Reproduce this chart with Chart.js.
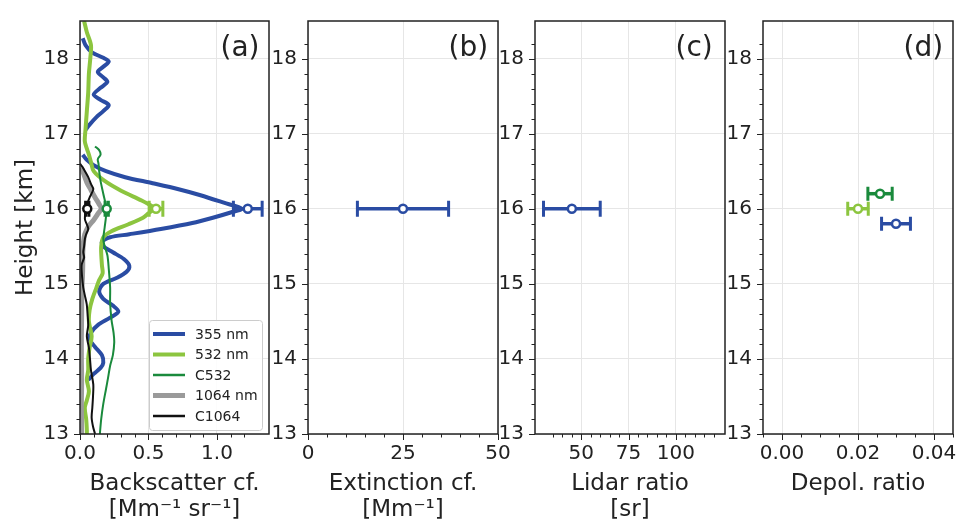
<!DOCTYPE html>
<html>
<head>
<meta charset="utf-8">
<title>Lidar profiles</title>
<script src="https://cdn.jsdelivr.net/npm/chart.js@4.4.1/dist/chart.umd.min.js"></script>
<style>
  html, body { margin:0; padding:0; background:#fff; }
  body { width:957px; height:523px; position:relative; overflow:hidden; }
  canvas { position:absolute; top:0; }
</style>
</head>
<body>
<canvas id="panelA"></canvas>
<canvas id="panelB"></canvas>
<canvas id="panelC"></canvas>
<canvas id="panelD"></canvas>
<script>
// ---- data (heights in km) ----
const h355 = [18.27,18.18,18.08,18.01,17.96,17.89,17.82,17.75,17.69,17.61,17.52,17.45,17.38,17.30,17.22,17.12,17.05,
  16.90,
  16.72,16.65,16.58,16.50,16.42,16.34,16.26,16.18,16.08,16.00,15.95,15.88,15.81,15.73,15.66,15.62,15.56,15.50,15.42,
  15.33,15.24,15.16,15.08,15.00,14.90,14.80,14.71,14.63,14.55,14.45,14.35,14.26,14.16,14.05,13.95,13.88,13.80,13.72];
const bsc355 = [0.02,0.04,0.09,0.17,0.21,0.17,0.13,0.17,0.20,0.15,0.10,0.15,0.21,0.17,0.12,0.07,0.04,
  null,
  0.02,0.05,0.10,0.19,0.33,0.53,0.72,0.88,1.05,1.18,1.10,0.97,0.82,0.59,0.36,0.22,0.16,0.17,0.24,
  0.32,0.36,0.34,0.27,0.17,0.14,0.17,0.24,0.28,0.22,0.13,0.08,0.07,0.11,0.16,0.17,0.15,0.10,0.06];

const h532 = [18.50,18.35,18.18,18.00,17.80,17.55,17.30,17.05,16.90,16.80,16.72,16.62,16.50,16.37,16.24,16.11,16.04,16.00,
  15.94,15.88,15.79,15.70,15.62,15.50,15.40,15.25,15.14,15.05,14.95,14.80,14.65,14.50,14.30,14.15,14.00,13.85,13.72,
  13.57,13.45,13.35,13.20,13.05,13.00];
const bsc532 = [0.03,0.05,0.08,0.075,0.065,0.06,0.05,0.04,0.035,0.05,0.065,0.08,0.10,0.18,0.30,0.45,0.52,0.54,
  0.50,0.46,0.35,0.23,0.17,0.155,0.155,0.16,0.165,0.14,0.12,0.09,0.07,0.065,0.085,0.07,0.06,0.06,0.05,
  0.065,0.05,0.035,0.045,0.05,0.05];

const hC532 = [16.83,16.78,16.72,16.66,16.60,16.50,16.37,16.20,16.03,15.90,15.75,15.60,15.50,15.38,15.20,14.95,14.75,
  14.52,14.35,14.22,14.05,13.91,13.75,13.60,13.40,13.20,13.00];
const bscC532 = [0.11,0.14,0.15,0.13,0.135,0.14,0.15,0.17,0.19,0.19,0.18,0.17,0.18,0.20,0.21,0.22,0.22,
  0.23,0.245,0.25,0.24,0.22,0.205,0.19,0.17,0.155,0.145];

const h1064 = [16.55,16.45,16.35,16.25,16.15,16.06,16.00,15.93,15.85,15.76,15.66,15.55,15.40,15.25,15.10,14.90,
  14.60,14.30,14.00,13.70,13.40,13.00];
const bsc1064 = [0.01,0.03,0.05,0.08,0.11,0.14,0.155,0.13,0.10,0.06,0.035,0.025,0.02,0.02,0.018,0.013,
  0.012,0.01,0.01,0.012,0.01,0.012];

const hC1064 = [16.60,16.55,16.50,16.42,16.33,16.26,16.16,16.08,16.03,15.95,15.86,15.79,15.73,15.66,15.60,15.50,
  15.42,15.35,15.25,15.10,14.95,14.85,14.73,14.60,14.45,14.30,14.15,14.00,13.85,13.66,13.50,13.35,13.22,13.10,13.00];
const bscC1064 = [0.00,0.02,0.036,0.06,0.08,0.097,0.073,0.055,0.05,0.04,0.036,0.05,0.06,0.045,0.036,0.03,
  0.024,0.03,0.012,0.015,0.024,0.035,0.049,0.055,0.06,0.05,0.065,0.073,0.08,0.097,0.095,0.09,0.085,0.095,0.11];

// layer mean values at 16 km
const meanBsc = [1.225, 0.555, 0.195, 0.053];
const meanBscErr = [0.105, 0.05, 0.012, 0.012];
const meanBscH = [16, 16, 16, 16];

const extinction = [25], extinctionErr = [12], extinctionH = [16];
const lidarRatio = [45], lidarRatioErr = [15], lidarRatioH = [16];

const depol = [0.020, 0.0258, 0.030];
const depolErr = [0.0027, 0.0032, 0.0038];
const depolH = [16.0, 16.2, 15.8];

const BLUE = '#2a4ca3', LGREEN = '#8cc53f', DGREEN = '#1a8a3c', GREY = '#9a9a9a', BLACK = '#111111';

Chart.defaults.font.family = 'DejaVu Sans';
Chart.defaults.color = '#222';

// which tick: 2 = major, 1 = minor, 0 = none
function kind(v, major, minor) {
  const near = (a, s) => Math.abs(a / s - Math.round(a / s)) < 1e-6;
  if (near(v, major)) return 2;
  if (near(v, minor)) return 1;
  return 0;
}

function fmt(v, digits) {
  if (Math.abs(v) < 1e-9) v = 0;
  return v.toFixed(digits);
}

function pts(hs, vs) {
  return hs.map((h, i) => ({x: vs[i], y: h}));
}

// frame, tick marks, error bars, panel letter, legend
const panelPlugin = {
  id: 'panel',
  beforeDatasetDraw(chart, args) {
    const ds = chart.data.datasets[args.index];
    if (!ds.errors) return;
    const ctx = chart.ctx, xs = chart.scales.x, ys = chart.scales.y;
    ctx.save();
    ds.data.forEach((p, i) => {
      const y = ys.getPixelForValue(p.y);
      const x0 = xs.getPixelForValue(p.x - ds.errors[i]);
      const x1 = xs.getPixelForValue(p.x + ds.errors[i]);
      ctx.strokeStyle = ds.pointBorderColor[i];
      ctx.lineWidth = 3.5;
      ctx.beginPath(); ctx.moveTo(x0, y); ctx.lineTo(x1, y); ctx.stroke();
      ctx.lineWidth = 3;
      const c = ds.capSize;
      ctx.beginPath();
      ctx.moveTo(x0, y - c); ctx.lineTo(x0, y + c);
      ctx.moveTo(x1, y - c); ctx.lineTo(x1, y + c);
      ctx.stroke();
    });
    ctx.restore();
  },
  afterDraw(chart, args, o) {
    const ctx = chart.ctx, a = chart.chartArea;
    const xs = chart.scales.x, ys = chart.scales.y;
    ctx.save();
    ctx.strokeStyle = '#222';
    ctx.lineWidth = 1;
    xs.ticks.forEach(t => {
      const k = kind(t.value, o.xMajor, o.xMinor);
      if (!k) return;
      const p = Math.round(xs.getPixelForValue(t.value)) + 0.5;
      ctx.beginPath(); ctx.moveTo(p, a.bottom); ctx.lineTo(p, a.bottom + (k === 2 ? 6 : 3.5)); ctx.stroke();
    });
    ys.ticks.forEach(t => {
      const k = kind(t.value, 1, 0.2);
      if (!k) return;
      const p = Math.round(ys.getPixelForValue(t.value)) + 0.5;
      ctx.beginPath(); ctx.moveTo(a.left, p); ctx.lineTo(a.left - (k === 2 ? 6 : 3.5), p); ctx.stroke();
    });
    ctx.lineWidth = 1.5;
    ctx.strokeRect(a.left, a.top, a.right - a.left, a.bottom - a.top);

    ctx.fillStyle = '#222';
    ctx.font = '28px "DejaVu Sans"';
    ctx.textAlign = 'left';
    ctx.textBaseline = 'alphabetic';
    ctx.fillText(o.letter, a.left + 140.5, a.top + 34.6);

    if (o.legend) {
      const bx = 149, by = 320, bw = 113, bh = 110;
      ctx.fillStyle = 'rgba(255,255,255,0.85)';
      ctx.strokeStyle = '#cccccc';
      ctx.lineWidth = 1;
      ctx.beginPath();
      ctx.roundRect(bx + 0.5, by + 0.5, bw, bh, 3);
      ctx.fill(); ctx.stroke();
      ctx.font = '14px "DejaVu Sans"';
      ctx.textBaseline = 'middle';
      o.legend.forEach((e, i) => {
        const y = 334 + i * 20.5;
        ctx.strokeStyle = e.color;
        ctx.lineWidth = e.width;
        ctx.beginPath(); ctx.moveTo(153, y); ctx.lineTo(185, y); ctx.stroke();
        ctx.fillStyle = '#222';
        ctx.fillText(e.label, 195, y + 1);
      });
    }
    ctx.restore();
  }
};

function makePanel(id, left, width, cfg) {
  const el = document.getElementById(id);
  const padRight = 25;
  el.width = 80 + width + padRight;
  el.height = 523;
  el.style.left = (left - 80) + 'px';
  const xMajor = cfg.xMajor, xMinor = cfg.xMinor;
  return new Chart(el, {
    type: 'scatter',
    data: {datasets: cfg.datasets},
    plugins: [panelPlugin],
    options: {
      responsive: false,
      animation: false,
      events: [],
      layout: {padding: {top: 10, right: padRight, left: 0, bottom: 0}},
      plugins: {
        legend: {display: false},
        tooltip: {enabled: false},
        panel: {letter: cfg.letter, xMajor: xMajor, xMinor: xMinor, legend: cfg.legend}
      },
      scales: {
        x: {
          type: 'linear', min: cfg.xMin, max: cfg.xMax,
          ticks: {
            stepSize: xMinor, autoSkip: false, maxRotation: 0, padding: 8,
            font: {size: 20, lineHeight: 1.2}, color: '#222',
            callback: v => kind(v, xMajor, xMinor) === 2 ? fmt(v, cfg.xDigits) : ''
          },
          grid: {drawTicks: false, lineWidth: 1,
            color: c => (c.tick && kind(c.tick.value, xMajor, xMinor) === 2) ? '#e6e6e6' : 'rgba(0,0,0,0)'},
          border: {display: false},
          title: {display: true, text: cfg.xTitle, color: '#222',
            font: {size: 23, lineHeight: 1.13}, padding: {top: 0, bottom: cfg.xTitlePad}},
          afterFit: s => { s.height = 89; }
        },
        y: {
          type: 'linear', min: 13, max: 18.5,
          ticks: {
            stepSize: 0.2, autoSkip: false, padding: 11,
            font: {size: 20, lineHeight: 1}, color: '#222',
            callback: v => kind(v, 1, 0.2) === 2 ? fmt(v, 0) : ''
          },
          grid: {drawTicks: false, lineWidth: 1,
            color: c => (c.tick && kind(c.tick.value, 1, 0.2) === 2) ? '#e6e6e6' : 'rgba(0,0,0,0)'},
          border: {display: false},
          title: {display: !!cfg.yTitle, text: cfg.yTitle || '', color: '#222',
            font: {size: 23, lineHeight: 1.13}, padding: {top: 13, bottom: 0}},
          afterFit: s => { s.width = 80; }
        }
      }
    }
  });
}

function profile(label, hs, vs, color, width, order) {
  return {label: label, data: pts(hs, vs), showLine: true, borderColor: color, borderWidth: width,
    pointRadius: 0, tension: 0.3, order: order, fill: false};
}

function markers(xs, errs, hs, colors, cap) {
  return {label: 'mean', data: pts(hs, xs), errors: errs, capSize: cap, order: 0, showLine: false,
    pointRadius: 4, pointBorderWidth: 2.5, pointBackgroundColor: '#ffffff',
    pointBorderColor: colors, pointStyle: 'circle'};
}

// (a) backscatter profiles
makePanel('panelA', 80, 189, {
  letter: '(a)', xMin: 0, xMax: 1.38, xMajor: 0.5, xMinor: 0.1, xDigits: 1,
  xTitle: ['Backscatter cf.', '[Mm\u207B\u00B9 sr\u207B\u00B9]'], xTitlePad: 0,
  yTitle: 'Height [km]',
  legend: [
    {label: '355 nm', color: BLUE, width: 4},
    {label: '532 nm', color: LGREEN, width: 4},
    {label: 'C532', color: DGREEN, width: 2.5},
    {label: '1064 nm', color: GREY, width: 5},
    {label: 'C1064', color: BLACK, width: 2.5}
  ],
  datasets: [
    markers(meanBsc, meanBscErr, meanBscH, [BLUE, LGREEN, DGREEN, BLACK], 8),
    profile('C1064', hC1064, bscC1064, BLACK, 2, 1),
    profile('1064 nm', h1064, bsc1064, GREY, 5, 2),
    profile('C532', hC532, bscC532, DGREEN, 2, 3),
    profile('532 nm', h532, bsc532, LGREEN, 4, 4),
    profile('355 nm', h355, bsc355, BLUE, 4, 5)
  ]
});

// (b) extinction
makePanel('panelB', 308, 190, {
  letter: '(b)', xMin: 0, xMax: 50, xMajor: 25, xMinor: 5, xDigits: 0,
  xTitle: ['Extinction cf.', '[Mm\u207B\u00B9]'], xTitlePad: 0,
  datasets: [markers(extinction, extinctionErr, extinctionH, [BLUE], 8)]
});

// (c) lidar ratio
makePanel('panelC', 535, 190, {
  letter: '(c)', xMin: 25.5, xMax: 126, xMajor: 25, xMinor: 5, xDigits: 0,
  xTitle: ['Lidar ratio', '[sr]'], xTitlePad: 0,
  datasets: [markers(lidarRatio, lidarRatioErr, lidarRatioH, [BLUE], 8)]
});

// (d) depolarization ratio
makePanel('panelD', 763, 190, {
  letter: '(d)', xMin: -0.005, xMax: 0.045, xMajor: 0.02, xMinor: 0.005, xDigits: 2,
  xTitle: 'Depol. ratio', xTitlePad: 26,
  datasets: [markers(depol, depolErr, depolH, [LGREEN, DGREEN, BLUE], 7)]
});
</script>
</body>
</html>
